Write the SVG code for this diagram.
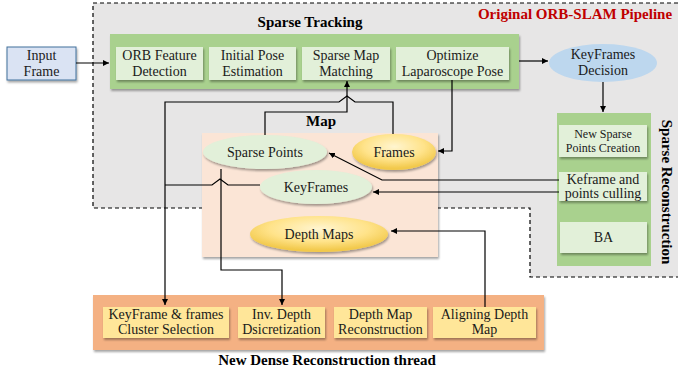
<svg xmlns="http://www.w3.org/2000/svg" width="678" height="373" viewBox="0 0 678 373">
<defs>
<style>
text{font-family:'Liberation Serif','DejaVu Serif',serif}
.t{font-size:14px;fill:#1a1a1a;text-anchor:middle}
.s{font-size:12px}
.b{font-weight:bold;font-size:15px;fill:#000;text-anchor:middle}
.ib{fill:#e2f0d9}
.iy{fill:#ffe699}
.c{fill:none;stroke:#000;stroke-width:1.2}
.a{marker-end:url(#ah)}
</style>
<marker id="ah" markerWidth="8" markerHeight="8" refX="6" refY="3" orient="auto" markerUnits="userSpaceOnUse">
<path d="M0,0 L6,3 L0,6 Z" fill="#000"/>
</marker>
<filter id="sh" x="-10%" y="-10%" width="125%" height="140%">
<feDropShadow dx="1" dy="2" stdDeviation="1" flood-color="#000" flood-opacity="0.35"/>
</filter>
<radialGradient id="yg" cx="50%" cy="35%" r="60%">
<stop offset="0" stop-color="#fff5d0"/>
<stop offset="0.6" stop-color="#ffe38a"/>
<stop offset="1" stop-color="#f2c94c"/>
</radialGradient>
</defs>

<g id="orbslam-region">
<path d="M93,3 H678 V277 H530 V208 H93 Z" fill="#e7e6e6"/>
<path d="M678,3 H93 V208 H530 V277 H678" fill="none" stroke="#000" stroke-width="1.2" stroke-dasharray="4,3"/>
<text class="b" x="575" y="19" style="fill:#c00000">Original ORB-SLAM Pipeline</text>
</g>

<g id="input-frame">
<rect x="7" y="47" width="69" height="33" fill="#dae3f3" stroke="#41719c" stroke-width="1" filter="url(#sh)"/>
<text class="t" x="41.5" y="60">Input</text>
<text class="t" x="41.5" y="76">Frame</text>
</g>

<g id="sparse-tracking">
<text class="b" x="310" y="27">Sparse Tracking</text>
<rect x="110" y="34" width="409" height="55" fill="#a9d18e" filter="url(#sh)"/>
<g id="orb-feature">
<rect class="ib" x="116" y="47" width="87" height="33" filter="url(#sh)"/>
<text class="t" x="159.5" y="60">ORB Feature</text>
<text class="t" x="159.5" y="76">Detection</text>
</g>
<g id="initial-pose">
<rect class="ib" x="209" y="47" width="87" height="33" filter="url(#sh)"/>
<text class="t" x="252.5" y="60">Initial Pose</text>
<text class="t" x="252.5" y="76">Estimation</text>
</g>
<g id="sparse-map-matching">
<rect class="ib" x="302" y="47" width="88" height="33" filter="url(#sh)"/>
<text class="t" x="346" y="60">Sparse Map</text>
<text class="t" x="346" y="76">Matching</text>
</g>
<g id="optimize-pose">
<rect class="ib" x="396" y="47" width="113" height="33" filter="url(#sh)"/>
<text class="t" x="452.5" y="60">Optimize</text>
<text class="t" x="452.5" y="76">Laparoscope Pose</text>
</g>
</g>

<g id="keyframes-decision">
<ellipse cx="603" cy="63" rx="54" ry="19" fill="#bdd7ee"/>
<text class="t" x="603" y="59">KeyFrames</text>
<text class="t" x="603" y="75">Decision</text>
</g>

<g id="sparse-reconstruction">
<rect x="557" y="113" width="94" height="153" fill="#a9d18e"/>
<text class="b" transform="translate(662,192) rotate(90)">Sparse Reconstruction</text>
<g id="new-sparse-points">
<rect class="ib" x="559" y="125" width="88" height="32" filter="url(#sh)"/>
<text class="t s" x="603" y="138">New Sparse</text>
<text class="t s" x="603" y="152">Points Creation</text>
</g>
<g id="culling">
<rect class="ib" x="559" y="172" width="88" height="29" filter="url(#sh)"/>
<text class="t" x="603" y="184">Keframe and</text>
<text class="t" x="603" y="198">points culling</text>
</g>
<g id="ba">
<rect class="ib" x="560" y="222" width="87" height="31" filter="url(#sh)"/>
<text class="t" x="603.5" y="242">BA</text>
</g>
</g>

<g id="map">
<rect x="202" y="133" width="236" height="124" fill="#fbe5d6" filter="url(#sh)"/>
<text class="b" x="321" y="126">Map</text>
<g id="sparse-points">
<ellipse cx="265" cy="152" rx="62" ry="17" fill="#e2f0d9" filter="url(#sh)"/>
<text class="t" x="265" y="157">Sparse Points</text>
</g>
<g id="frames">
<ellipse cx="394" cy="152" rx="42" ry="18" fill="url(#yg)" filter="url(#sh)"/>
<text class="t" x="394" y="157">Frames</text>
</g>
<g id="keyframes">
<ellipse cx="316" cy="187" rx="56" ry="17" fill="#e2f0d9" filter="url(#sh)"/>
<text class="t" x="316" y="192">KeyFrames</text>
</g>
<g id="depth-maps">
<ellipse cx="319" cy="234" rx="69" ry="18" fill="url(#yg)" filter="url(#sh)"/>
<text class="t" x="319" y="239">Depth Maps</text>
</g>
</g>

<g id="dense-reconstruction">
<rect x="93" y="295" width="451" height="55" fill="#f4b183" filter="url(#sh)"/>
<text class="b" x="327" y="365">New Dense Reconstruction thread</text>
<g id="cluster-selection">
<rect class="iy" x="103" y="307" width="126" height="31" filter="url(#sh)"/>
<text class="t" x="166" y="319">KeyFrame &amp; frames</text>
<text class="t" x="166" y="334">Cluster Selection</text>
</g>
<g id="inv-depth">
<rect class="iy" x="238" y="307" width="87" height="31" filter="url(#sh)"/>
<text class="t" x="281.5" y="319">Inv. Depth</text>
<text class="t" x="281.5" y="334">Dsicretization</text>
</g>
<g id="depth-map-recon">
<rect class="iy" x="334" y="307" width="93" height="31" filter="url(#sh)"/>
<text class="t" x="380.5" y="319">Depth Map</text>
<text class="t" x="380.5" y="334">Reconstruction</text>
</g>
<g id="aligning">
<rect class="iy" x="433" y="307" width="103" height="31" filter="url(#sh)"/>
<text class="t" x="484.5" y="319">Aligning Depth</text>
<text class="t" x="484.5" y="334">Map</text>
</g>
</g>

<g id="connectors">
<path class="c a" d="M76,63 H109"/>
<path class="c a" d="M519,61 H548"/>
<path class="c a" d="M603,82 V112"/>
<path class="c a" d="M452,80 V151 H438"/>
<path class="c a" d="M393,134 V102 H355 L347,96 L339,102 H165 V305"/>
<path class="c a" d="M265,135 V112 H347 V81"/>
<path class="c" d="M260,185 H228 L220,179 L212,185 H165"/>
<path class="c a" d="M221,169 V270 H282 V305"/>
<path class="c a" d="M559,180 H382 L329,153"/>
<path class="c a" d="M559,192 H373"/>
<path class="c a" d="M485,307 V231 H391"/>
</g>
</svg>
